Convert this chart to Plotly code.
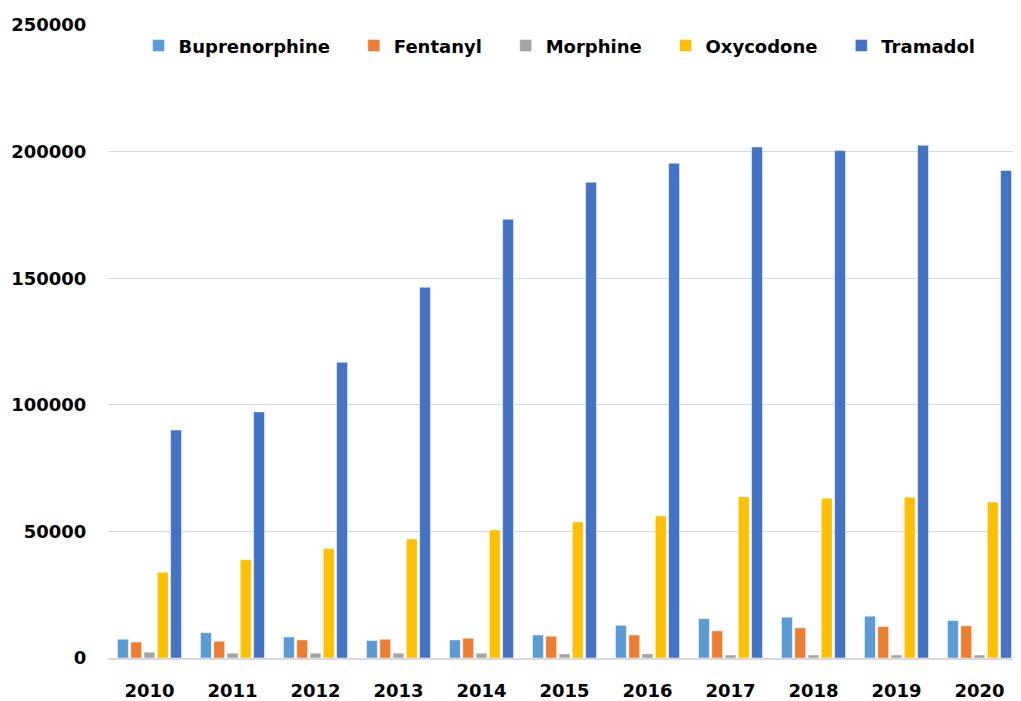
import plotly.graph_objects as go

years = ["2010", "2011", "2012", "2013", "2014", "2015", "2016", "2017", "2018", "2019", "2020"]
buprenorphine = [7400, 10000, 8300, 6900, 7100, 9100, 12900, 15500, 16100, 16500, 14800]
fentanyl = [6300, 6600, 7100, 7400, 7800, 8600, 9100, 10700, 11900, 12400, 12700]
morphine = [2300, 1900, 1900, 1900, 1900, 1600, 1600, 1200, 1200, 1200, 1200]
oxycodone = [33900, 38800, 43200, 47000, 50600, 53700, 56100, 63700, 63100, 63500, 61600]
tramadol = [90000, 97200, 116800, 146400, 173300, 187900, 195400, 201800, 200400, 202500, 192500]

series = [
    ("Buprenorphine", buprenorphine, "#5B9BD5"),
    ("Fentanyl", fentanyl, "#ED7D31"),
    ("Morphine", morphine, "#A5A5A5"),
    ("Oxycodone", oxycodone, "#FFC000"),
    ("Tramadol", tramadol, "#4472C4"),
]

PAD = "\u00a0" * 3

fig = go.Figure()
for name, vals, color in series:
    fig.add_trace(go.Bar(
        name=name + PAD, x=years, y=vals,
        marker=dict(color=color, line=dict(color="rgba(255,255,255,0.6)", width=0.8)),
    ))

font_family = "DejaVu Sans"
fig.update_layout(
    width=1013, height=693,
    margin=dict(l=100, r=0, t=17, b=43, autoexpand=False),
    paper_bgcolor="white", plot_bgcolor="white",
    barmode="group", bargap=0.2, bargroupgap=0.18,
    font=dict(family=font_family, size=18, color="black"),
    legend=dict(
        orientation="h", x=0.505, xanchor="center", y=0.967, yanchor="middle",
        font=dict(family=font_family, size=18, color="black", weight="bold"),
        bgcolor="rgba(0,0,0,0)", itemwidth=30, traceorder="normal",
    ),
    xaxis=dict(
        automargin=False,
        showgrid=False, showline=True, linecolor="#D9D9D9", linewidth=1.5,
        ticks="outside", ticklen=16, tickcolor="rgba(0,0,0,0)",
        tickfont=dict(family=font_family, size=18, color="black", weight="bold"),
    ),
    yaxis=dict(
        automargin=False,
        range=[0, 250000], tickvals=[0, 50000, 100000, 150000, 200000, 250000],
        ticktext=["0", "50000", "100000", "150000", "200000", "250000"],
        showgrid=True, gridcolor="#D9D9D9", gridwidth=1.2, zeroline=False,
        showline=False, ticks="outside", ticklen=17, tickcolor="rgba(0,0,0,0)",
        tickfont=dict(family=font_family, size=18, color="black", weight="bold"),
    ),
)

fig.write_html("out.html")
